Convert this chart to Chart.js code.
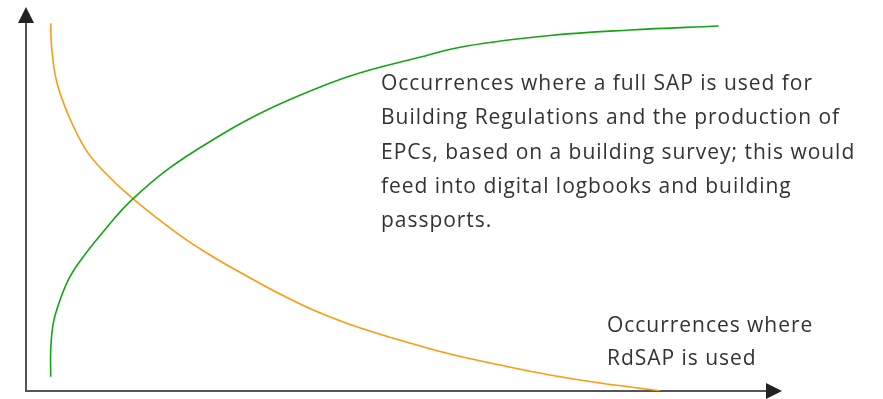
<!DOCTYPE html>
<html>
<head>
<meta charset="utf-8">
<script src="https://cdn.jsdelivr.net/npm/chart.js@4.4.1/dist/chart.umd.min.js"></script>
<style>
  html, body { margin: 0; padding: 0; background: #fff; }
  #wrap { width: 883px; height: 399px; }
</style>
</head>
<body>
<div id="wrap"><canvas id="sapChart"></canvas></div>
<script>
// values, both axes 0..100 (no ticks in the original)
const fullSapX = [3.27, 3.27, 3.61, 4.50, 5.82, 7.58, 10.22, 13.76, 19.05, 25.66, 29.63, 34.48, 42.86, 51.68, 58.29, 69.31, 79.9, 91.63];
const fullSapY = [3.72, 10.68, 17.63, 23.70, 29.77, 34.98, 41.48, 49.30, 58.15, 66.54, 70.96, 75.52, 82.03, 86.72, 89.84, 92.58, 94.01, 95.05];
const rdSapX = [3.27, 3.40, 4.06, 5.60, 7.80, 10.01, 13.98, 20.37, 24.78, 29.19, 33.60, 38.00, 42.42, 46.83, 51.46, 56.08, 62.7, 69.31, 75.93, 83.86];
const rdSapY = [95.76, 89.24, 80.55, 71.88, 63.20, 57.76, 50.34, 40.52, 34.90, 29.95, 25.26, 21.09, 17.63, 14.77, 12.11, 9.64, 6.77, 4.16, 2.08, 0.08];

const fullSapNote = [
    "Occurrences where a full SAP is used for",
    "Building Regulations and the production of",
    "EPCs, based on a building survey; this would",
    "feed into digital logbooks and building",
    "passports."
];
const rdSapNote = ["Occurrences where", "RdSAP is used"];

function toPoints(xs, ys) {
    return xs.map((x, i) => ({ x: x, y: ys[i] }));
}

// spread letters so a line comes out at the width seen in the picture
function fitSpacing(ctx, line, width) {
    ctx.letterSpacing = '0px';
    const w = ctx.measureText(line).width;
    return ((width - w) / (line.length - 1)) + 'px';
}

// axes with arrow heads + the two text notes
const axesAndNotes = {
    id: 'axesAndNotes',
    beforeDatasetsDraw(chart) {
        const ctx = chart.ctx;
        const a = chart.chartArea;
        ctx.save();
        ctx.strokeStyle = '#555';
        ctx.lineWidth = 2;
        ctx.beginPath();
        ctx.moveTo(a.left, a.top + 14);
        ctx.lineTo(a.left, a.bottom);
        ctx.lineTo(a.right - 14, a.bottom);
        ctx.stroke();

        ctx.fillStyle = '#222';
        ctx.beginPath();
        ctx.moveTo(a.left, a.top);
        ctx.lineTo(a.left - 8, a.top + 16);
        ctx.lineTo(a.left + 8, a.top + 16);
        ctx.closePath();
        ctx.fill();

        ctx.beginPath();
        ctx.moveTo(a.right, a.bottom);
        ctx.lineTo(a.right - 16, a.bottom - 8);
        ctx.lineTo(a.right - 16, a.bottom + 8);
        ctx.closePath();
        ctx.fill();
        ctx.restore();
    },
    afterDraw(chart) {
        const ctx = chart.ctx;
        ctx.save();
        ctx.fillStyle = '#333';
        ctx.font = '21px "Open Sans"';
        ctx.textBaseline = 'alphabetic';
        const sp = fitSpacing(ctx, fullSapNote[0], 431);
        ctx.letterSpacing = sp;
        fullSapNote.forEach((line, i) => ctx.fillText(line, 381, 90 + i * 34.3));
        rdSapNote.forEach((line, i) => ctx.fillText(line, 607, 332 + i * 33));
        ctx.restore();
    }
};

const ctx = document.getElementById('sapChart').getContext('2d');
new Chart(ctx, {
    type: 'line',
    plugins: [axesAndNotes],
    data: {
        datasets: [{
            label: 'Full SAP',
            data: toPoints(fullSapX, fullSapY),
            borderColor: '#14a514',
            borderWidth: 1.6,
            pointRadius: 0,
            tension: 0.4
        }, {
            label: 'RdSAP',
            data: toPoints(rdSapX, rdSapY),
            borderColor: '#fd9a10',
            borderWidth: 1.6,
            pointRadius: 0,
            tension: 0.4
        }]
    },
    options: {
        responsive: true,
        maintainAspectRatio: false,
        animation: false,
        layout: { padding: { left: 26, right: 101, top: 7, bottom: 8 } },
        scales: {
            x: { type: 'linear', min: 0, max: 100, display: false },
            y: { min: 0, max: 100, display: false }
        },
        plugins: {
            legend: { display: false },
            tooltip: { enabled: false }
        }
    }
});
</script>
</body>
</html>
